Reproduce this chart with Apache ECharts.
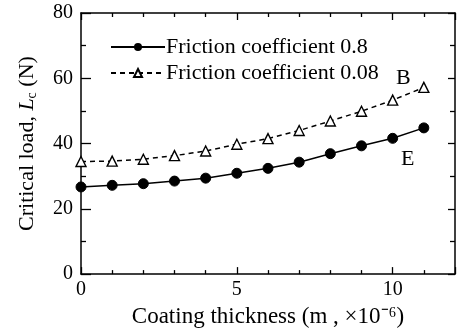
<!DOCTYPE html>
<html><head><meta charset="utf-8">
<script src="https://cdn.jsdelivr.net/npm/echarts@6/dist/echarts.min.js"></script>
<style>html,body{margin:0;padding:0;background:#fff}#c{width:459px;height:333px}</style>
</head><body><div id="c"></div>
<script>
const thickness = [0,1,2,3,4,5,6,7,8,9,10,11];
const mu08 = [26.7,27.2,27.7,28.5,29.4,30.9,32.4,34.3,36.9,39.3,41.6,44.8];
const mu008 = [34.5,34.6,35.2,36.3,37.7,39.8,41.5,44.0,46.9,49.9,53.3,57.2];
const xTicks = [0,5,10];
const yTicks = [0,20,40,60,80];
const seriesNames = ['Friction coefficient 0.8','Friction coefficient 0.08'];

const F = 'Liberation Serif, Times New Roman, serif';
const chart = echarts.init(document.getElementById('c'));
const axisLine = {show:true, onZero:false, lineStyle:{color:'#000', width:1.5}};
chart.setOption({
  animation:false,
  grid:{left:81, right:4, top:13, bottom:56},
  legend:{
    orient:'vertical', left:105, top:31, itemWidth:54, itemHeight:10, itemGap:4,
    textStyle:{fontFamily:F, fontSize:22, color:'#000', padding:[0,0,0,-4]},
    data:seriesNames
  },
  xAxis:[{
    type:'value', min:0, max:12, interval:5,
    axisLine:axisLine,
    axisTick:{inside:true, length:7, lineStyle:{color:'#000', width:1.3}},
    minorTick:{show:true, splitNumber:5, length:4, lineStyle:{color:'#000', width:1.3}},
    splitLine:{show:false},
    axisLabel:{fontFamily:F, fontSize:20, color:'#000', margin:6,
      formatter:v=>xTicks.includes(v)?String(v):''},
    name:'Coating thickness (m , \u00d710\u207b\u2076)', nameLocation:'middle', nameGap:30,
    nameTextStyle:{fontFamily:F, fontSize:23, color:'#000'}
  },{
    type:'value', min:0, max:12, interval:5, position:'top',
    axisLine:axisLine,
    axisTick:{inside:true, length:7, lineStyle:{color:'#000', width:1.3}},
    minorTick:{show:true, splitNumber:5, length:4, lineStyle:{color:'#000', width:1.3}},
    axisLabel:{show:false}, splitLine:{show:false}
  }],
  yAxis:[{
    type:'value', min:0, max:80, interval:20,
    axisLine:axisLine,
    axisTick:{inside:true, length:10, lineStyle:{color:'#000', width:1.3}},
    minorTick:{show:true, splitNumber:2, length:5, lineStyle:{color:'#000', width:1.3}},
    splitLine:{show:false},
    axisLabel:{fontFamily:F, fontSize:20, color:'#000', margin:8,
      formatter:v=>yTicks.includes(v)?String(v):''},
    name:'{n|Critical load, }{i|L}{s|c}{n| (N)}', nameLocation:'middle', nameGap:42, nameRotate:90,
    nameTextStyle:{rich:{
      n:{fontFamily:F, fontSize:22, color:'#000'},
      i:{fontFamily:F, fontSize:22, fontStyle:'italic', color:'#000'},
      s:{fontFamily:F, fontSize:14, color:'#000', verticalAlign:'bottom', padding:[10,0,0,0]}
    }}
  },{
    type:'value', min:0, max:80, interval:20, position:'right',
    axisLine:axisLine,
    axisTick:{inside:true, length:7, lineStyle:{color:'#000', width:1.3}},
    minorTick:{show:true, splitNumber:2, length:5, lineStyle:{color:'#000', width:1.3}},
    axisLabel:{show:false}, splitLine:{show:false}
  }],
  series:[{
    name:seriesNames[0], type:'line',
    data:thickness.map((x,i)=>[x,mu08[i]]),
    symbol:'circle', symbolSize:10,
    lineStyle:{color:'#000', width:1.5},
    itemStyle:{color:'#000', borderColor:'#000'}
  },{
    name:seriesNames[1], type:'line',
    data:thickness.map((x,i)=>[x,mu008[i]]),
    symbol:'triangle', symbolSize:10,
    lineStyle:{color:'#000', width:1.5, type:[5,4]},
    itemStyle:{color:'#fff', borderColor:'#000', borderWidth:1.4}
  }],
  graphic:[
    {type:'text', left:396, top:67, style:{text:'B', fontFamily:F, fontSize:22, fill:'#000'}},
    {type:'text', left:401, top:148, style:{text:'E', fontFamily:F, fontSize:22, fill:'#000'}}
  ]
});
</script></body></html>
